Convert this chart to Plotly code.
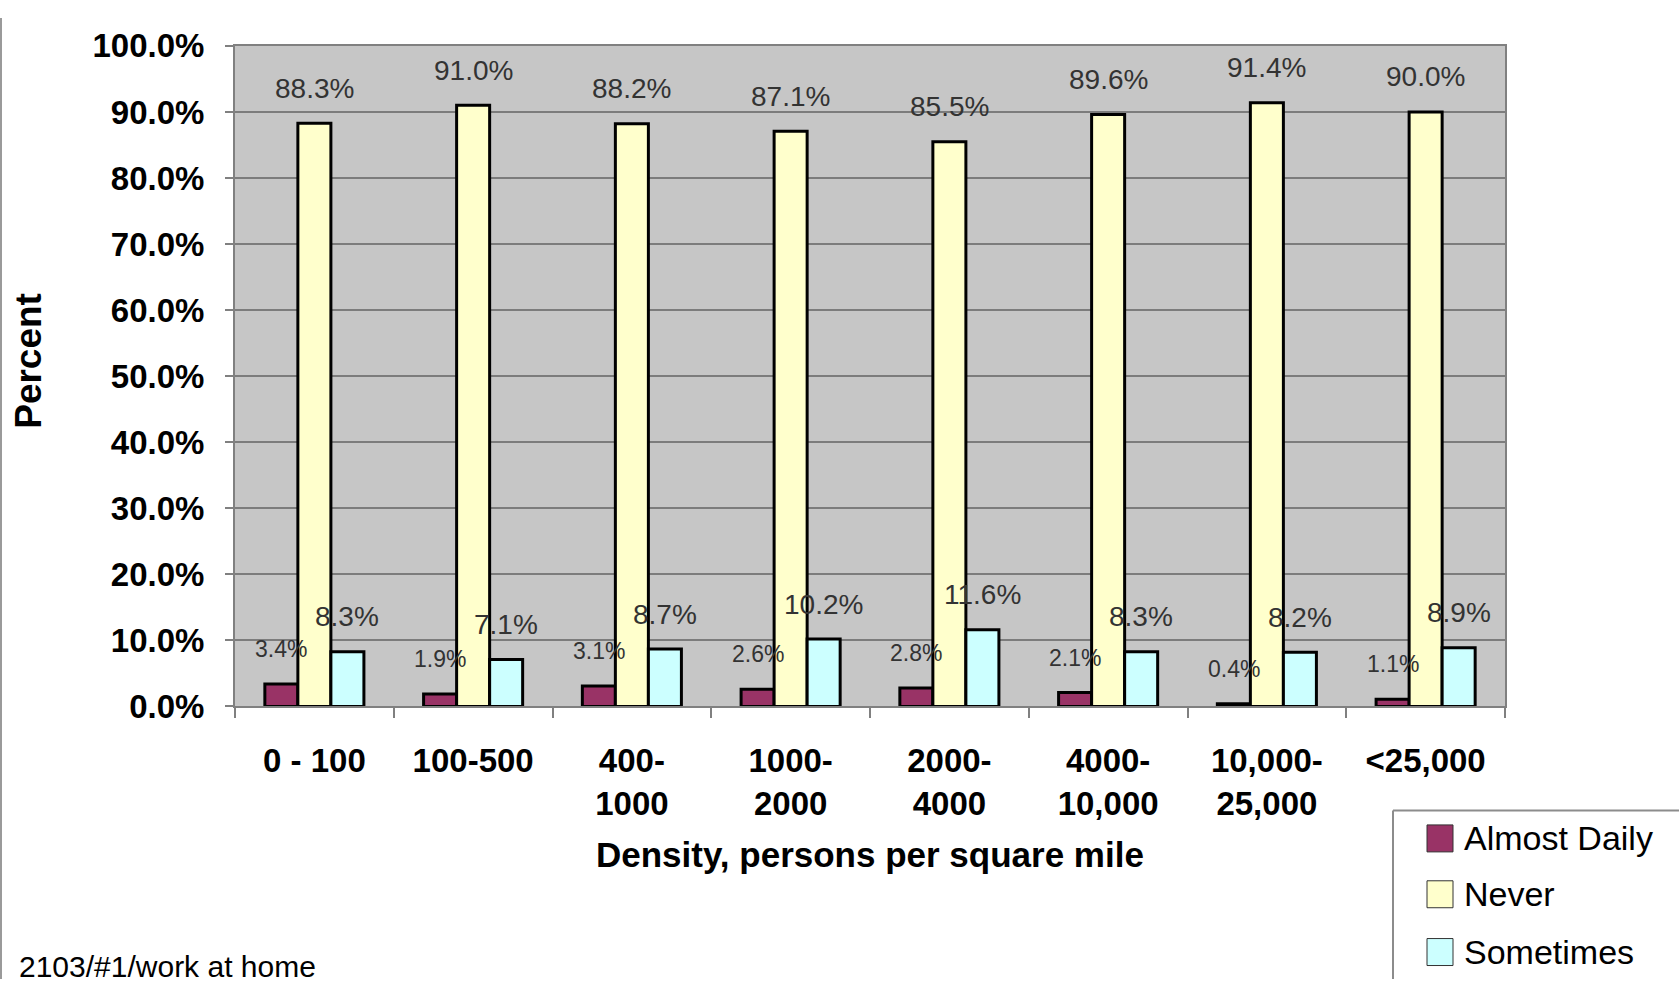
import plotly.graph_objects as go

# Density bands (persons per square mile)
categories = ["0 - 100", "100-500", "400-\n1000", "1000-\n2000", "2000-\n4000",
              "4000-\n10,000", "10,000-\n25,000", "<25,000"]

series_names = ["Almost Daily", "Never", "Sometimes"]
almost_daily = [3.4, 1.9, 3.1, 2.6, 2.8, 2.1, 0.4, 1.1]
never = [88.3, 91.0, 88.2, 87.1, 85.5, 89.6, 91.4, 90.0]
sometimes = [8.3, 7.1, 8.7, 10.2, 11.6, 8.3, 8.2, 8.9]

y_ticks = [0, 10, 20, 30, 40, 50, 60, 70, 80, 90, 100]

colors = ["#993366", "#FFFFCC", "#CCFFFF"]
W, H = 1679, 998
FONT = "Arial, 'Liberation Sans', Helvetica, sans-serif"


def px_x(p):
    return p / W


def px_y(p):
    return 1 - p / H


x_keys = list(range(len(categories)))
tick_text = ["<b>" + c.replace("<", "&lt;").replace("\n", "<br>") + "</b>" for c in categories]

fig = go.Figure()
all_series = [almost_daily, never, sometimes]
for name, vals, col in zip(series_names, all_series, colors):
    fig.add_trace(go.Bar(
        x=x_keys, y=vals, name=name,
        marker=dict(color=col, line=dict(color="#000000", width=3)),
        showlegend=False,
    ))

# Value labels above each bar
bar_px = 33
label_sizes = [23, 28, 28]
for si, vals in enumerate(all_series):
    for ci, v in enumerate(vals):
        fig.add_annotation(
            x=x_keys[ci], y=v, xref="x", yref="y",
            text=f"{v:.1f}%", showarrow=False,
            xshift=(si - 1) * bar_px, yshift=35,
            xanchor="center", yanchor="middle",
            font=dict(family=FONT, size=label_sizes[si], color="#333333"),
        )

# Axis titles
fig.add_annotation(
    x=px_x(29), y=px_y(356), xref="paper", yref="paper",
    text="<b>Percent</b>", textangle=-90, showarrow=False,
    xanchor="center", yanchor="middle",
    font=dict(family=FONT, size=37, color="#000000"),
)
fig.add_annotation(
    x=px_x(870), y=px_y(869), xref="paper", yref="paper",
    text="<b>Density, persons per square mile</b>", showarrow=False,
    xanchor="center", yanchor="middle",
    font=dict(family=FONT, size=35, color="#000000"),
)

# Footnote
fig.add_annotation(
    x=px_x(18), y=0, xref="paper", yref="paper",
    text="2103/#1/work at home", showarrow=False,
    xanchor="left", yanchor="bottom", borderpad=0, yshift=-5,
    font=dict(family=FONT, size=30, color="#000000"),
)

# Legend panel (runs off the lower-right corner) and outer frame line
shapes = [
    dict(type="rect", xref="paper", yref="paper",
         x0=px_x(1393), x1=1, y0=0, y1=px_y(823),
         line=dict(width=0), fillcolor="#FFFFFF", layer="below"),
    dict(type="line", xref="paper", yref="paper",
         x0=px_x(1393), x1=px_x(1393), y0=0, y1=px_y(823),
         line=dict(color="#8c8c8c", width=2)),
    dict(type="line", xref="paper", yref="paper",
         x0=px_x(1393), x1=1, y0=px_y(823), y1=px_y(823),
         line=dict(color="#8c8c8c", width=2)),
    dict(type="line", xref="paper", yref="paper",
         x0=px_x(1), x1=px_x(1), y0=0, y1=1,
         line=dict(color="#9a9a9a", width=2)),
]
legend_rows = [852, 910, 970]
for name, col, cy in zip(series_names, colors, legend_rows):
    shapes.append(dict(
        type="rect", xref="paper", yref="paper",
        x0=px_x(1427), x1=px_x(1453), y0=px_y(cy + 14), y1=px_y(cy - 14),
        line=dict(color="#333333", width=1), fillcolor=col,
    ))
    fig.add_annotation(
        x=px_x(1462), y=px_y(cy), xref="paper", yref="paper",
        text=name, showarrow=False, xanchor="left", yanchor="middle",
        font=dict(family=FONT, size=34, color="#000000"),
    )

fig.update_layout(
    width=W, height=H,
    margin=dict(l=0, r=0, t=0, b=0),
    paper_bgcolor="#FFFFFF",
    plot_bgcolor="#C6C6C6",
    barmode="group", bargap=0.376, bargroupgap=0,
    shapes=shapes,
    xaxis=dict(
        domain=[px_x(235), px_x(1505)],
        type="category",
        tickmode="array", tickvals=x_keys, ticktext=tick_text,
        tickson="boundaries", ticks="outside", ticklen=10,
        tickcolor="#808080", tickwidth=2,
        showline=True, linecolor="#808080", linewidth=2, mirror=True,
        showgrid=False,
        tickfont=dict(family=FONT, size=33, color="#000000"),
        ticklabelstandoff=24,
    ),
    yaxis=dict(
        domain=[px_y(715), px_y(29)],
        range=[0, 100],
        tickmode="array", tickvals=y_ticks,
        ticktext=[f"<b>{t:.1f}%</b>" for t in y_ticks],
        ticks="outside", ticklen=8, tickcolor="#808080", tickwidth=2,
        showline=True, linecolor="#808080", linewidth=2, mirror=True,
        showgrid=True, gridcolor="#7c7c7c", gridwidth=2,
        zeroline=False,
        tickfont=dict(family=FONT, size=33, color="#000000"),
        ticklabelstandoff=14,
    ),
)

fig.write_html("out.html")
